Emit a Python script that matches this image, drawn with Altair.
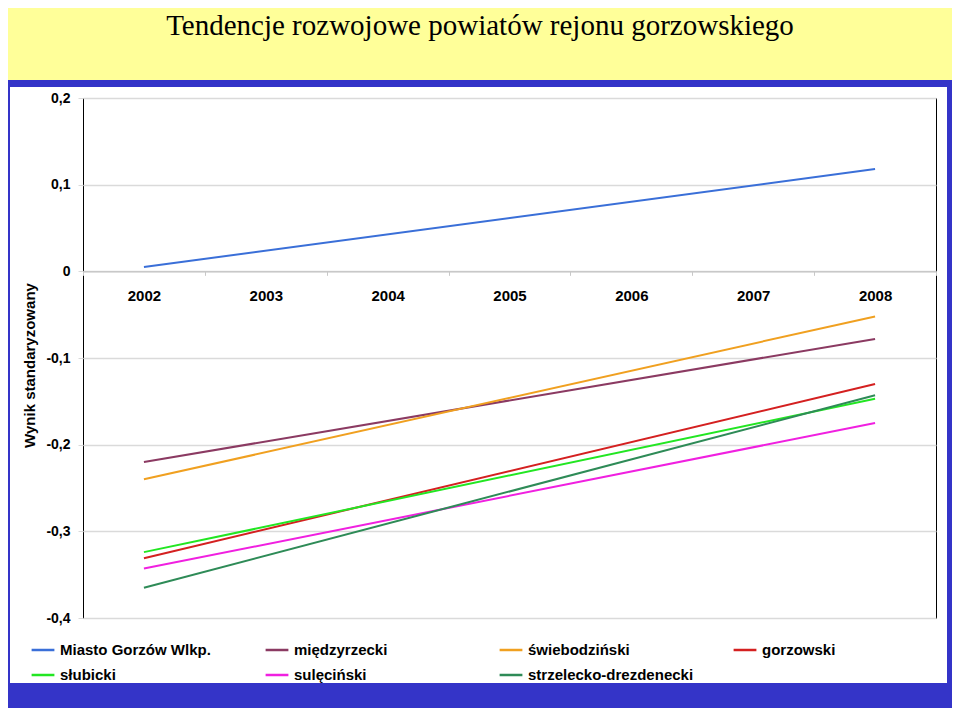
import altair as alt
import pandas as pd

years = ["2002", "2003", "2004", "2005", "2006", "2007", "2008"]
series = ["Miasto Gorzów Wlkp.", "międzyrzecki", "świebodziński", "gorzowski",
          "słubicki", "sulęciński", "strzelecko-drezdenecki"]
colors = ["#3a6fd8", "#8b3a62", "#f0a020", "#d42020", "#22e622", "#f020e0", "#2e8b57"]
start_year = "2002"
end_year = "2008"
v_start = [0.005, -0.220, -0.240, -0.331, -0.324, -0.343, -0.365]
v_end = [0.118, -0.078, -0.052, -0.130, -0.147, -0.175, -0.143]

rows = []
for s, a, b in zip(series, v_start, v_end):
    rows.append({"seria": s, "rok": start_year, "wynik": a})
    rows.append({"seria": s, "rok": end_year, "wynik": b})
df = pd.DataFrame(rows)

BLUE = "#3434c8"
YELLOW = "#ffff99"
one = alt.Data(values=[{}])


def rect(x1, x2, y1, y2, color):
    return alt.Chart(one).mark_rect(color=color, strokeWidth=0).encode(
        x=alt.value(x1), x2=alt.value(x2), y=alt.value(y1), y2=alt.value(y2)
    )


yellow_band = rect(-79, 873, -98, -18, YELLOW)
blue_top = rect(-79, 873, -18, -11, BLUE)
blue_left = rect(-79, -73, -18, 614, BLUE)
blue_right = rect(864, 873, -18, 614, BLUE)
blue_bottom = rect(-79, 873, 585, 614, BLUE)

title = alt.Chart(one).mark_text(
    text="Tendencje rozwojowe powiatów rejonu gorzowskiego",
    font="Liberation Serif", fontSize=29, color="#000000",
    align="center", baseline="alphabetic"
).encode(x=alt.value(397), y=alt.value(-63))

ylabel = ("datum.value == 0 ? '0' : replace(replace(format(datum.value, '.1f'), '.', ','), '\u2212', '-')")

lines = alt.Chart(df).mark_line(strokeWidth=2).encode(
    x=alt.X("rok:N", scale=alt.Scale(type="band", domain=years, paddingInner=0, paddingOuter=0),
            axis=alt.Axis(title=None, offset=-346.67, labelAngle=0, labelFont="Liberation Sans",
                          labelFontWeight="bold", labelFontSize=15, labelColor="#000000",
                          labelPadding=13, tickBand="extent", tickSize=4, tickColor="#c8c8c8",
                          domainColor="#c8c8c8", domainWidth=1.5, grid=False)),
    y=alt.Y("wynik:Q", scale=alt.Scale(domain=[-0.4, 0.2], nice=False, zero=False),
            axis=alt.Axis(title="Wynik standaryzowany", values=[-0.4, -0.3, -0.2, -0.1, 0, 0.1, 0.2],
                          labelExpr=ylabel, labelFont="Liberation Sans", labelFontWeight="bold",
                          labelFontSize=14, labelColor="#000000", labelPadding=8,
                          domain=False, grid=True, gridColor="#dadada", gridWidth=1.5,
                          tickColor="#dadada", tickSize=5,
                          titleFont="Liberation Sans", titleFontWeight="bold", titleFontSize=15,
                          titleColor="#000000", titleX=-49, titleY=267, titleBaseline="alphabetic")),
    color=alt.Color("seria:N", sort=series,
                    scale=alt.Scale(domain=series, range=colors),
                    legend=alt.Legend(title=None, orient="none", legendX=-53, legendY=539,
                                      direction="horizontal",
                                      columns=4, columnPadding=34, gridAlign="all", rowPadding=4,
                                      symbolType="stroke", symbolSize=520, symbolStrokeWidth=2.5,
                                      labelFont="Liberation Sans", labelFontWeight="bold",
                                      labelFontSize=15, labelColor="#000000", labelOffset=4,
                                      labelLimit=300)),
)

chart = alt.layer(
    yellow_band, blue_top, blue_left, blue_right, blue_bottom, title, lines
).properties(
    width=853, height=520,
    autosize=alt.AutoSizeParams(type="none"),
    padding={"left": 75, "top": 90, "right": 16, "bottom": 90},
    background="#ffffff",
).configure_view(stroke="#000000", strokeWidth=1, fill="#ffffff")

chart.save("out.html", embed_options={"renderer": "svg", "actions": False})
